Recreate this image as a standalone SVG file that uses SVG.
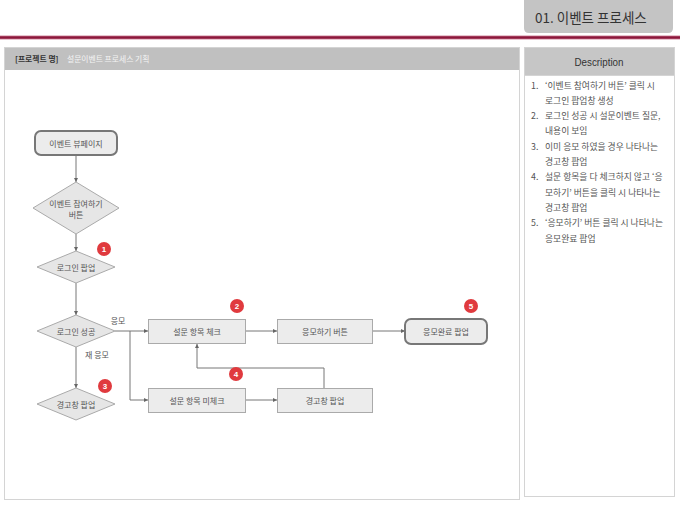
<svg xmlns="http://www.w3.org/2000/svg" width="680" height="510" viewBox="0 0 680 510">
<defs>
<marker id="arr" viewBox="0 0 6 6" refX="6" refY="3" markerWidth="4" markerHeight="4" orient="auto" markerUnits="userSpaceOnUse">
<path d="M0,0 L6,3 L0,6 z" fill="#666"/>
</marker>
</defs>
<style>
.k{font-family:"Noto Sans CJK KR","Noto Sans",sans-serif;}
.lbl{font-size:8px;fill:#555;text-anchor:middle;dominant-baseline:central;}
.box{fill:#ececec;stroke:#aaa;stroke-width:1;}
.term{fill:#ececec;stroke:#777;stroke-width:2;}
.dia{fill:#e6e6e6;stroke:#aaa;stroke-width:1;}
.conn{fill:none;stroke:#777;stroke-width:1;}
.badge circle{fill:#e03a3e;}
.badge text{font-family:"Liberation Sans",sans-serif;font-size:8px;font-weight:bold;fill:#fff;text-anchor:middle;dominant-baseline:central;}
.desc{font-size:8.8px;fill:#555;}
.panel{fill:#fff;stroke:#d4d4d4;stroke-width:1;}
</style>
<rect width="680" height="510" fill="#fff"/>
<!-- header tab -->
<g id="title-tab">
<path d="M524,0 H673 V28 Q673,33 668,33 H529 Q524,33 524,28 Z" fill="#c4c4c4"/>
<text x="535" y="23" class="k" font-size="13.5" fill="#333">01. 이벤트 프로세스</text>
</g>
<rect x="0" y="35.5" width="680" height="4" fill="#d48aa0"/>
<rect x="0" y="36.3" width="680" height="2.4" fill="#8c173b"/>
<!-- left panel -->
<g id="main-panel">
<rect x="4.5" y="47.5" width="515" height="452" class="panel"/>
<rect x="5" y="48" width="514" height="22" fill="#c0c0c0"/>
<text x="15" y="62" class="k" font-size="7.8" font-weight="bold" fill="#333">[프로젝트 명]</text>
<text x="67" y="62" class="k" font-size="7.8" fill="#f4f4f4">설문이벤트 프로세스 기획</text>
</g>
<!-- right panel -->
<g id="desc-panel">
<rect x="524.5" y="47.5" width="150" height="449" class="panel"/>
<rect x="525" y="48" width="149" height="27" fill="#c6c6c6"/>
<line x1="525" y1="75.5" x2="674" y2="75.5" stroke="#d4d4d4"/>
<text x="599" y="66" font-family="Liberation Sans,sans-serif" font-size="10.5" fill="#333" text-anchor="middle" textLength="49" lengthAdjust="spacingAndGlyphs">Description</text>
<g class="k desc">
<text x="531" y="89">1.</text><text x="545" y="89">‘이벤트 참여하기 버튼’ 클릭 시</text>
<text x="545" y="104">로그인 팝업창 생성</text>
<text x="531" y="119">2.</text><text x="545" y="119">로그인 성공 시 설문이벤트 질문,</text>
<text x="545" y="134">내용이 보임</text>
<text x="531" y="150">3.</text><text x="545" y="150">이미 응모 하였을 경우 나타나는</text>
<text x="545" y="165">경고창 팝업</text>
<text x="531" y="180">4.</text><text x="545" y="180">설문 항목을 다 체크하지 않고 ‘응</text>
<text x="545" y="196">모하기’ 버튼을 클릭 시 나타나는</text>
<text x="545" y="211">경고창 팝업</text>
<text x="531" y="226">5.</text><text x="545" y="226">‘응모하기’ 버튼 클릭 시 나타나는</text>
<text x="545" y="242">응모완료 팝업</text>
</g>
</g>
<!-- connectors -->
<g id="connectors" class="conn">
<line x1="76" y1="155" x2="76" y2="182" marker-end="url(#arr)"/>
<line x1="76" y1="234" x2="76" y2="251" marker-end="url(#arr)"/>
<line x1="76" y1="283" x2="76" y2="315" marker-end="url(#arr)"/>
<line x1="76" y1="347" x2="76" y2="388" marker-end="url(#arr)"/>
<line x1="115" y1="331" x2="148" y2="331" marker-end="url(#arr)"/>
<path d="M130,331 V400 H148" marker-end="url(#arr)"/>
<line x1="246" y1="331" x2="277" y2="331" marker-end="url(#arr)"/>
<line x1="373" y1="331" x2="405" y2="331" marker-end="url(#arr)"/>
<line x1="246" y1="400" x2="277" y2="400" marker-end="url(#arr)"/>
<path d="M324,388 V368 H197 V344" marker-end="url(#arr)"/>
</g>
<g class="k">
<text x="118" y="320" class="lbl">응모</text>
<text x="97" y="354" class="lbl">재 응모</text>
</g>
<!-- nodes -->
<g id="n-viewpage"><rect x="35" y="131" width="82" height="24" rx="6" class="term"/><text x="76" y="143" class="k lbl">이벤트 뷰페이지</text></g>
<g id="n-join"><polygon points="76,182 119,208 76,234 33,208" class="dia"/><text x="76" y="203" class="k lbl">이벤트 참여하기</text><text x="76" y="214" class="k lbl">버튼</text></g>
<g id="n-loginpopup"><polygon points="76,251 115,267 76,283 37,267" class="dia"/><text x="76" y="267" class="k lbl">로그인 팝업</text></g>
<g id="n-loginok"><polygon points="76,315 115,331 76,347 37,331" class="dia"/><text x="76" y="331" class="k lbl">로그인 성공</text></g>
<g id="n-warn1"><polygon points="76,388 115,404 76,420 37,404" class="dia"/><text x="76" y="404" class="k lbl">경고창 팝업</text></g>
<g id="n-check"><rect x="148.5" y="319.5" width="97" height="24" class="box"/><text x="197" y="331.5" class="k lbl">설문 항목 체크</text></g>
<g id="n-apply"><rect x="277.5" y="319.5" width="95" height="24" class="box"/><text x="325" y="331.5" class="k lbl">응모하기 버튼</text></g>
<g id="n-done"><rect x="405" y="319" width="82" height="25" rx="6" class="term"/><text x="446" y="331.5" class="k lbl">응모완료 팝업</text></g>
<g id="n-uncheck"><rect x="148.5" y="388.5" width="97" height="24" class="box"/><text x="197" y="400.5" class="k lbl">설문 항목 미체크</text></g>
<g id="n-warn2"><rect x="277.5" y="388.5" width="95" height="24" class="box"/><text x="325" y="400.5" class="k lbl">경고창 팝업</text></g>
<!-- badges -->
<g id="b1" class="badge"><circle cx="104" cy="249" r="7"/><text x="104" y="249">1</text></g>
<g id="b2" class="badge"><circle cx="237" cy="306" r="7"/><text x="237" y="306">2</text></g>
<g id="b3" class="badge"><circle cx="105" cy="386" r="7"/><text x="105" y="386">3</text></g>
<g id="b4" class="badge"><circle cx="236" cy="374" r="7"/><text x="236" y="374">4</text></g>
<g id="b5" class="badge"><circle cx="471" cy="306" r="7"/><text x="471" y="306">5</text></g>
</svg>
